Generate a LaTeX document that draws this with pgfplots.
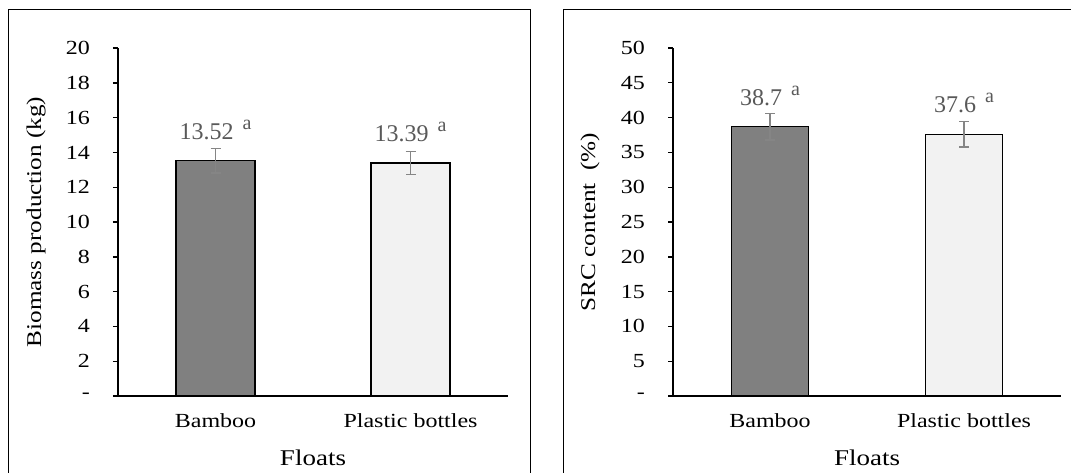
\documentclass[border=0pt]{standalone}
\usepackage{fontspec}
\setmainfont[FakeStretch=1.2]{Liberation Serif}
\newfontfamily\valfont{Liberation Serif}
\usepackage{pgfplots}
\usepackage{pgfplotstable}
\pgfplotsset{compat=1.18}
\definecolor{barA}{HTML}{808080}
\definecolor{barB}{HTML}{F2F2F2}
\definecolor{errc}{HTML}{858585}
\definecolor{valc}{HTML}{595959}

\pgfplotstableread{
x y e lab
0 13.52 0.70 13.52
}\bioA
\pgfplotstableread{
x y e lab
1 13.39 0.66 13.39
}\bioB
\pgfplotstableread{
x y e lab
0 38.7 1.93 38.7
}\srcA
\pgfplotstableread{
x y e lab
1 37.6 1.85 37.6
}\srcB

\pgfplotsset{
 panel/.style={
  scale only axis, anchor=south west,
  height=348pt,
  xmin=-0.5, xmax=1.5, ymin=0,
  axis x line=bottom, axis y line=left,
  axis line style={-, line width=1.4pt, black},
  xtick={0,1}, xticklabels={Bamboo, Plastic bottles},
  x tick style={draw=none},
  y tick style={line width=1.4pt, black},
  tick align=outside, major tick length=5pt,
  yticklabel style={font=\fontsize{20}{24}\selectfont, inner sep=0pt, anchor=east, xshift=-23pt},
  xticklabel style={font=\fontsize{20}{24}\selectfont, inner sep=0pt, anchor=base, yshift=-26pt},
  xlabel=Floats,
  xlabel style={font=\fontsize{22.5}{26}\selectfont, at={(axis description cs:0.5,0)}, anchor=base, yshift=-69pt, inner sep=0pt},
  ybar, bar shift=0pt,
  error bars/y dir=both, error bars/y explicit,
  error bars/error bar style={errc, line width=1.4pt},
  error bars/error mark options={errc, rotate=90, mark size=5pt, line width=1.4pt},
  point meta=explicit symbolic,
  nodes near coords={\valfont\fontsize{24}{28}\selectfont\pgfplotspointmeta\hspace{9pt}\raisebox{10pt}{\fontsize{20}{22}\selectfont a}},
  every node near coord/.append style={inner sep=0pt, anchor=base, yshift=21.5pt, text=valc},
 }
}

\begin{document}
\begin{tikzpicture}
\useasboundingbox (0pt,0pt) rectangle (1071pt,472pt);
\clip (0pt,0pt) rectangle (1071pt,472pt);
\draw[line width=1pt, black] (8pt,-10pt) -- (8pt,462pt) -- (530pt,462pt) -- (530pt,-10pt);
\draw[line width=1pt, black] (563pt,-10pt) -- (563pt,462pt) -- (1085pt,462pt) -- (1085pt,-10pt);

\begin{axis}[panel, at={(118pt,76pt)}, width=390pt, ymax=20,
  ytick={0,2,...,20}, yticklabels={-,2,4,6,8,10,12,14,16,18,20},
  ylabel={Biomass production (kg)},
  ylabel style={font=\fontsize{21}{25}\selectfont, at={(axis description cs:-0.197,0.5)}, anchor=base, inner sep=0pt}]
\addplot[fill=barA, draw=black, line width=1.4pt, bar width=79pt] table[x=x, y=y, y error=e, meta=lab] {\bioA};
\addplot[fill=barB, draw=black, line width=1.4pt, bar width=79pt] table[x=x, y=y, y error=e, meta=lab] {\bioB};
\end{axis}

\begin{axis}[panel, at={(673pt,76pt)}, width=388pt, ymax=50,
  ytick={0,5,...,50}, yticklabels={-,5,10,15,20,25,30,35,40,45,50},
  ylabel={SRC content\ \ (\%)},
  ylabel style={font=\fontsize{21}{25}\selectfont, at={(axis description cs:-0.201,0.5)}, anchor=base, inner sep=0pt}]
\addplot[fill=barA, draw=black, line width=1.4pt, bar width=77pt] table[x=x, y=y, y error=e, meta=lab] {\srcA};
\addplot[fill=barB, draw=black, line width=1.4pt, bar width=77pt] table[x=x, y=y, y error=e, meta=lab] {\srcB};
\end{axis}
\end{tikzpicture}
\end{document}
